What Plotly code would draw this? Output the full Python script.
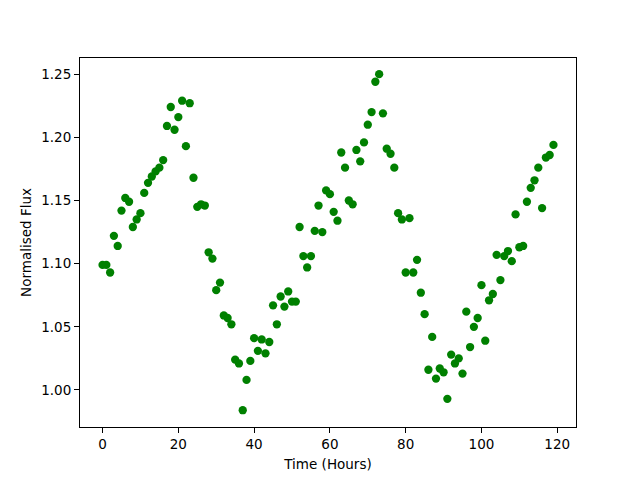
import plotly.graph_objects as go

hours = list(range(120))
flux = [
    1.099, 1.099, 1.093, 1.122, 1.114, 1.142, 1.152, 1.149, 1.129, 1.135,
    1.140, 1.156, 1.164, 1.169, 1.173, 1.176, 1.182, 1.209, 1.224, 1.206,
    1.216, 1.229, 1.193, 1.227, 1.168, 1.145, 1.147, 1.146, 1.109, 1.104,
    1.079, 1.085, 1.059, 1.057, 1.052, 1.024, 1.021, 0.984, 1.008, 1.023,
    1.041, 1.031, 1.040, 1.029, 1.038, 1.067, 1.052, 1.074, 1.066, 1.078,
    1.070, 1.070, 1.129, 1.106, 1.097, 1.106, 1.126, 1.146, 1.125, 1.158,
    1.155, 1.141, 1.134, 1.188, 1.176, 1.150, 1.147, 1.190, 1.181, 1.196,
    1.210, 1.220, 1.244, 1.250, 1.219, 1.191, 1.187, 1.176, 1.140, 1.135,
    1.093, 1.136, 1.093, 1.103, 1.077, 1.060, 1.016, 1.042, 1.009, 1.017,
    1.014, 0.993, 1.028, 1.021, 1.025, 1.013, 1.062, 1.034, 1.050, 1.057,
    1.083, 1.039, 1.071, 1.076, 1.107, 1.087, 1.106, 1.110, 1.102, 1.139,
    1.113, 1.114, 1.149, 1.160, 1.166, 1.176, 1.144, 1.184, 1.186, 1.194,
]
x_ticks = [0, 20, 40, 60, 80, 100, 120]
y_ticks = [1.00, 1.05, 1.10, 1.15, 1.20, 1.25]

fig = go.Figure(go.Scatter(
    x=hours, y=flux, mode="markers",
    marker=dict(color="#008000", size=8.3, line=dict(width=0)),
))

axis_common = dict(
    showgrid=False, zeroline=False, showline=True, linecolor="black", linewidth=1,
    mirror=True, ticks="outside", ticklen=5, tickcolor="black", tickwidth=1,
    tickfont=dict(family="DejaVu Sans", size=13.5, color="black"),
)
fig.update_xaxes(range=[-5.95, 124.95], tickvals=x_ticks,
                 title=dict(text="Time (Hours)", font=dict(family="DejaVu Sans", size=13.5, color="black"), standoff=8),
                 **axis_common)
fig.update_yaxes(range=[0.9707, 1.2628], tickvals=y_ticks, tickformat=".2f",
                 title=dict(text="Normalised Flux", font=dict(family="DejaVu Sans", size=13.5, color="black"), standoff=6),
                 **axis_common)
fig.update_layout(
    width=640, height=480, plot_bgcolor="white", paper_bgcolor="white",
    margin=dict(l=72, r=72, t=50, b=61), showlegend=False,
)
fig.write_html("out.html")
